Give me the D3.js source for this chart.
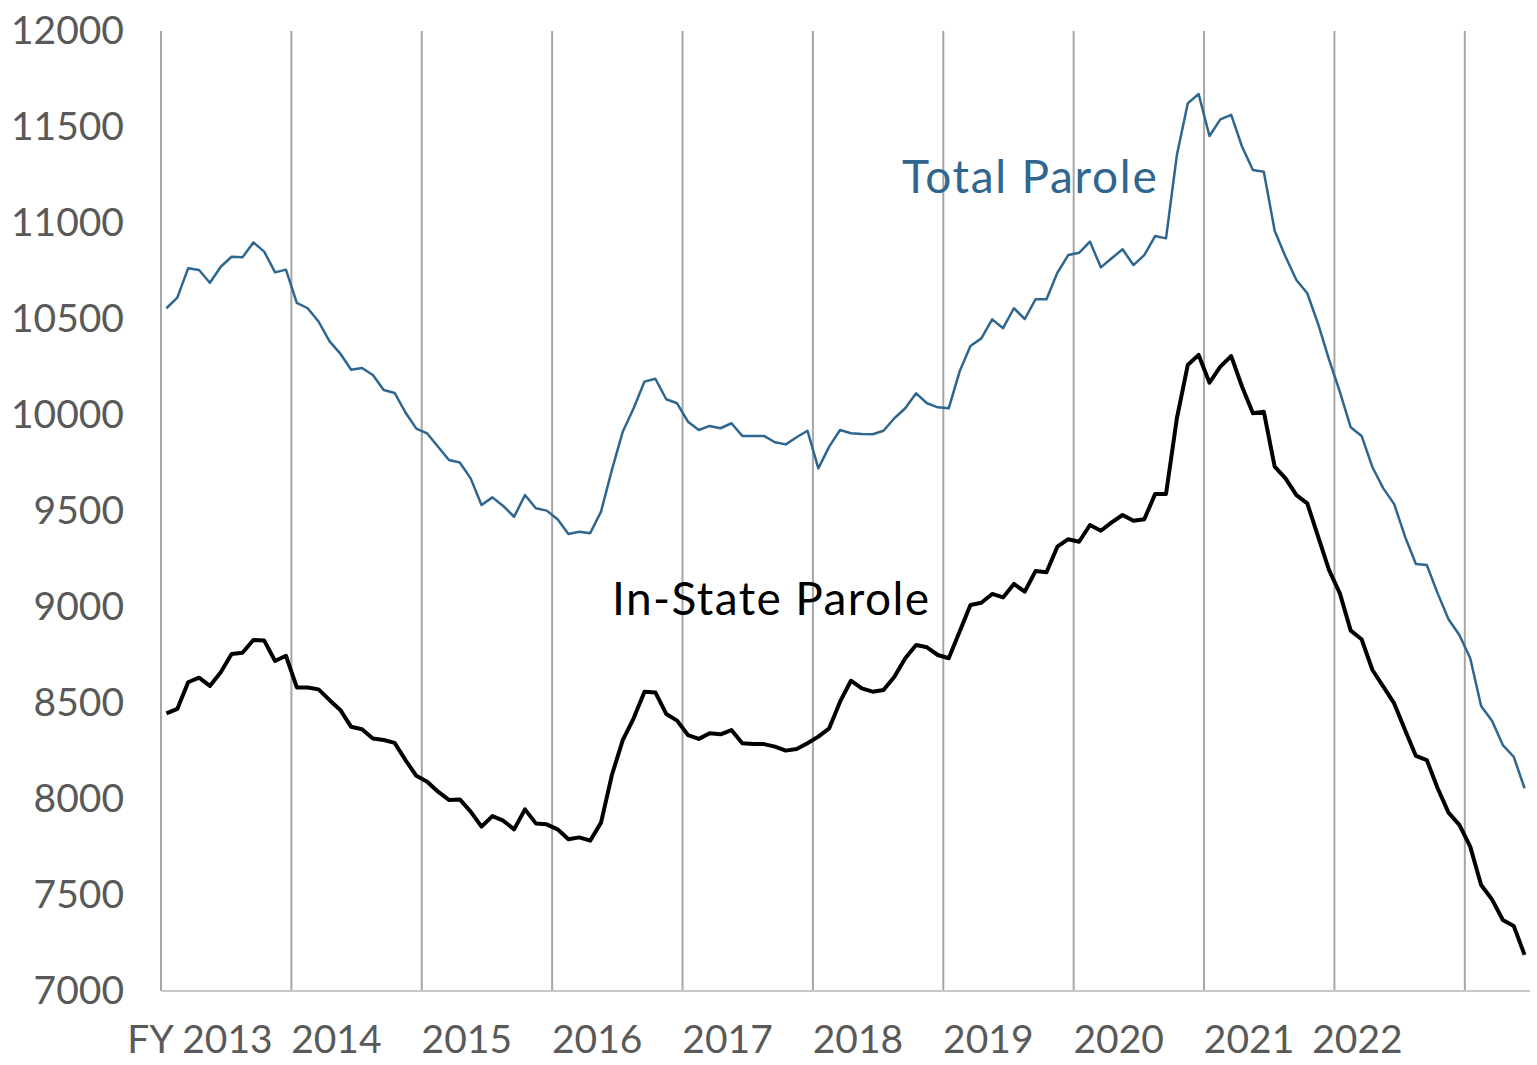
<!DOCTYPE html>
<html>
<head>
<meta charset="utf-8">
<script src="https://cdn.jsdelivr.net/npm/d3@7"></script>
<style>
  html, body { margin: 0; padding: 0; background: #fff; }
  svg text { font-family: Futura, "Century Gothic", Lato, sans-serif; }
</style>
</head>
<body>
<svg id="chart" width="1537" height="1065"></svg>
<script>
// monthly counts, FY 2013 (Jul 2012) through Dec 2022
const totalParole = [
    10556, 10611, 10764, 10755, 10689, 10772, 10824, 10821, 10899, 10851, 10743, 10757,
    10584, 10556, 10487, 10385, 10320, 10236, 10245, 10208, 10130, 10115, 10013, 9929,
    9904, 9835, 9766, 9753, 9670, 9531, 9571, 9526, 9470, 9583, 9514, 9502,
    9457, 9380, 9392, 9384, 9497, 9714, 9913, 10035, 10174, 10189, 10082, 10061,
    9965, 9922, 9943, 9931, 9957, 9891, 9891, 9891, 9858, 9847, 9884, 9918,
    9722, 9835, 9922, 9905, 9901, 9900, 9918, 9983, 10035, 10113, 10061, 10040,
    10035, 10226, 10359, 10399, 10498, 10452, 10556, 10500, 10603, 10603, 10741, 10833,
    10845, 10903, 10769, 10816, 10863, 10781, 10833, 10932, 10920, 11354, 11623, 11672,
    11453, 11540, 11563, 11397, 11276, 11267, 10960, 10824, 10703, 10634, 10474, 10290,
    10121, 9936, 9891, 9728, 9618, 9536, 9366, 9224, 9219, 9071, 8936, 8854,
    8733, 8484, 8408, 8281, 8220, 8056
];

const inStateParole = [
    8446, 8469, 8608, 8632, 8589, 8660, 8755, 8762, 8828, 8825, 8719, 8746,
    8581, 8581, 8571, 8516, 8464, 8376, 8363, 8315, 8307, 8292, 8203, 8121,
    8090, 8038, 7995, 7998, 7934, 7856, 7911, 7887, 7842, 7946, 7873, 7868,
    7842, 7790, 7800, 7783, 7877, 8125, 8307, 8420, 8559, 8555, 8443, 8408,
    8333, 8313, 8342, 8337, 8359, 8290, 8286, 8286, 8273, 8252, 8260, 8290,
    8325, 8368, 8507, 8616, 8576, 8559, 8568, 8637, 8733, 8802, 8790, 8750,
    8733, 8871, 9010, 9022, 9068, 9050, 9120, 9080, 9188, 9181, 9314, 9353,
    9340, 9427, 9397, 9441, 9479, 9449, 9457, 9589, 9589, 9983, 10260, 10313,
    10168, 10252, 10307, 10147, 10009, 10017, 9731, 9670, 9583, 9540, 9366, 9193,
    9071, 8877, 8832, 8672, 8585, 8498, 8359, 8224, 8203, 8056, 7929, 7865,
    7752, 7552, 7477, 7370, 7339, 7188
];

const yearLabels = ["FY 2013", "2014", "2015", "2016", "2017", "2018", "2019", "2020", "2021", "2022"];
const yTicks = [7000, 7500, 8000, 8500, 9000, 9500, 10000, 10500, 11000, 11500, 12000];
const seriesNames = ["Total Parole", "In-State Parole"];

const svg = d3.select("#chart");
const margin = { top: 31, right: 7, bottom: 74, left: 161 };
const width = 1537 - margin.left - margin.right;
const height = 1065 - margin.top - margin.bottom;
const g = svg.append("g").attr("transform", `translate(${margin.left},${margin.top})`);

const months = d3.range(totalParole.length);
const x = d3.scaleBand().domain(months).range([0, width]).padding(0);
const y = d3.scaleLinear().domain([7000, 12000]).range([height, 0]);
const cx = i => x(i) + x.bandwidth() / 2;

// year separators
const yearStarts = d3.range(0, totalParole.length, 12);
g.selectAll("line.grid")
    .data(yearStarts)
    .enter()
    .append("line")
    .attr("class", "grid")
    .attr("x1", d => x(d))
    .attr("x2", d => x(d))
    .attr("y1", 0)
    .attr("y2", height)
    .attr("stroke", "#a6a6a6")
    .attr("stroke-width", 2);

g.append("line")
    .attr("x1", 0).attr("x2", width)
    .attr("y1", height).attr("y2", height)
    .attr("stroke", "#c8c8c8")
    .attr("stroke-width", 2);

// y axis labels
const yAxis = g.append("g")
    .call(d3.axisLeft(y).tickValues(yTicks).tickSize(0).tickPadding(37).tickFormat(d3.format("d")));
yAxis.select(".domain").remove();
yAxis.selectAll("text")
    .attr("font-size", 39)
    .attr("fill", "#595959")
    .style("font-family", "Futura, 'Century Gothic', Lato, sans-serif");

// year labels under the axis (center offset from each year's left boundary)
const labelOffset = [39, 45, 45, 45, 45, 45, 45, 45, 45, 23];
g.selectAll("text.year")
    .data(yearLabels)
    .enter()
    .append("text")
    .attr("class", "year")
    .attr("x", (d, i) => x(yearStarts[i]) + labelOffset[i])
    .attr("y", height + 62)
    .attr("text-anchor", "middle")
    .attr("font-size", 39)
    .attr("fill", "#595959")
    .text(d => d);

const line = d3.line()
    .x((d, i) => cx(i))
    .y(d => y(d));

g.append("path")
    .datum(totalParole)
    .attr("fill", "none")
    .attr("stroke", "#2f6690")
    .attr("stroke-width", 2.5)
    .attr("stroke-linejoin", "round")
    .attr("d", line);

g.append("path")
    .datum(inStateParole)
    .attr("fill", "none")
    .attr("stroke", "#000")
    .attr("stroke-width", 4)
    .attr("stroke-linejoin", "round")
    .attr("d", line);

// series labels
g.append("text")
    .attr("x", 902 - margin.left)
    .attr("y", 193 - margin.top)
    .attr("font-size", 46)
    .attr("letter-spacing", 1.7)
    .attr("fill", "#2f6690")
    .text(seriesNames[0]);

g.append("text")
    .attr("x", 612 - margin.left)
    .attr("y", 615 - margin.top)
    .attr("font-size", 46)
    .attr("letter-spacing", 1.4)
    .attr("fill", "#000")
    .text(seriesNames[1]);
</script>
</body>
</html>
